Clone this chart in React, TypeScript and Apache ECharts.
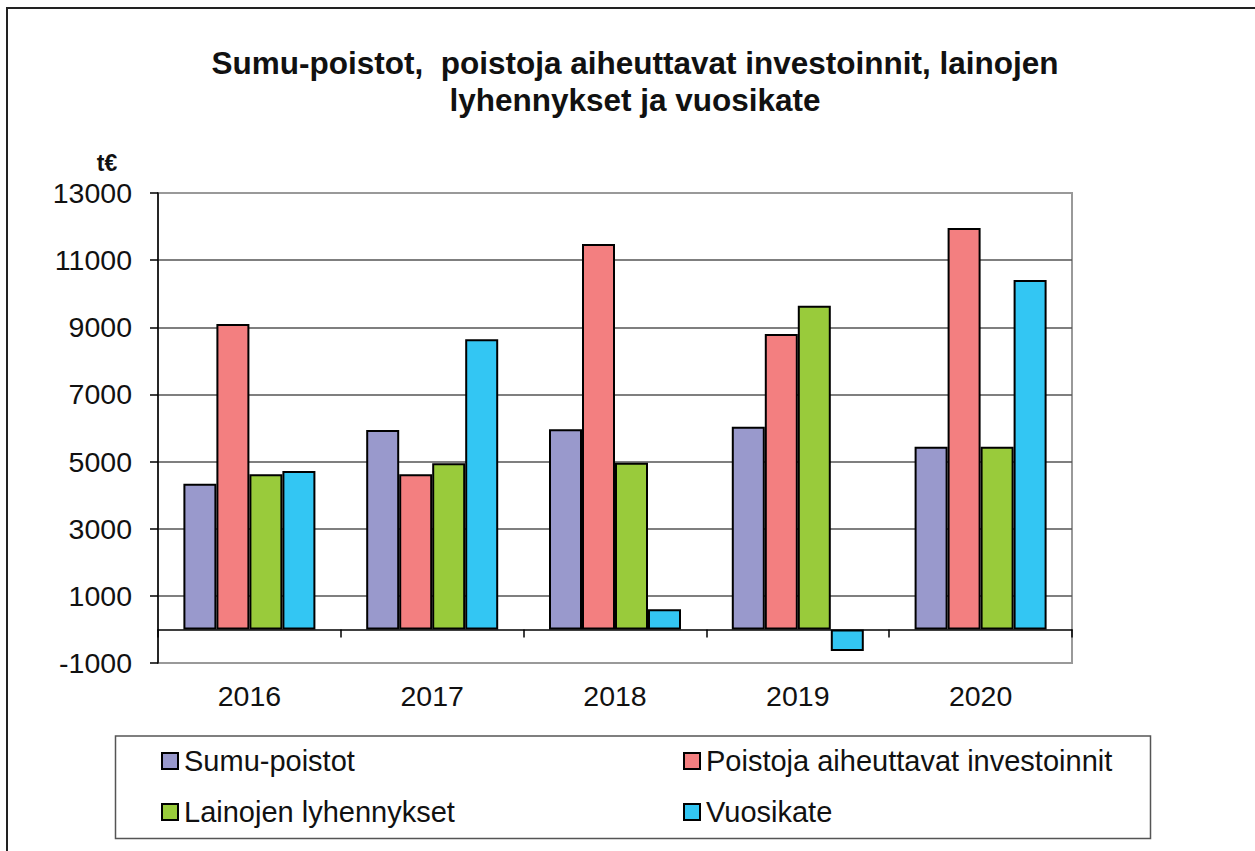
import React, { useEffect, useRef } from "react";
import * as echarts from "echarts";

const years = ["2016", "2017", "2018", "2019", "2020"];
const sumuPoistot = [4340, 5940, 5960, 6040, 5440];
const investoinnit = [9100, 4620, 11480, 8800, 11960];
const lyhennykset = [4620, 4950, 4965, 9640, 5440];
const vuosikate = [4720, 8640, 600, -640, 10410];

const seriesNames = [
  "Sumu-poistot",
  "Poistoja aiheuttavat investoinnit",
  "Lainojen lyhennykset",
  "Vuosikate",
];
const seriesColors = ["#9999cc", "#f37f80", "#99cb3b", "#33c6f3"];
const seriesData = [sumuPoistot, investoinnit, lyhennykset, vuosikate];

const FONT = "'Liberation Sans', Arial, sans-serif";

export default function App() {
  const ref = useRef<HTMLDivElement>(null);
  useEffect(() => {
    if (!ref.current) return;
    const chart = echarts.init(ref.current, null, { renderer: "svg" });
    const legendPos = [
      { left: 161, top: 746 },
      { left: 683, top: 746 },
      { left: 161, top: 797 },
      { left: 683, top: 797 },
    ];
    chart.setOption({
      animation: false,
      backgroundColor: "#ffffff",
      title: {
        text: "Sumu-poistot,  poistoja aiheuttavat investoinnit, lainojen\nlyhennykset ja vuosikate",
        left: 635,
        top: 44,
        textAlign: "center",
        padding: 0,
        textStyle: {
          fontFamily: FONT,
          fontSize: 31.5,
          fontWeight: "bold",
          color: "#111",
          lineHeight: 37,
        },
      },
      grid: {
        left: 158,
        right: 183,
        top: 193,
        bottom: 188,
        show: true,
        borderColor: "#999",
        borderWidth: 2,
        backgroundColor: "transparent",
      },
      legend: seriesNames.map((n, i) => ({
        data: [n],
        left: legendPos[i].left,
        top: legendPos[i].top,
        padding: 0,
        itemWidth: 16,
        itemHeight: 16,
        itemGap: 0,
        icon: "rect",
        selectedMode: false,
        textStyle: {
          fontFamily: FONT,
          fontSize: 29,
          color: "#111",
          lineHeight: 30,
          padding: [0, 0, 0, 1],
        },
      })),
      xAxis: {
        type: "category",
        data: years,
        axisLine: { onZero: true, lineStyle: { color: "#000", width: 1.5 } },
        axisTick: { show: true, length: 8, lineStyle: { color: "#000", width: 1.5 } },
        axisLabel: { margin: 18, fontFamily: FONT, fontSize: 28.5, color: "#111" },
        splitLine: { show: false },
      },
      yAxis: {
        type: "value",
        min: -1000,
        max: 13000,
        interval: 2000,
        axisLine: { show: true, lineStyle: { color: "#000", width: 1.5 } },
        axisTick: { show: true, length: 8, lineStyle: { color: "#000", width: 1.5 } },
        axisLabel: {
          margin: 26,
          fontFamily: FONT,
          fontSize: 28.5,
          color: "#111",
          formatter: (v: number) => String(v),
        },
        splitLine: {
          show: true,
          showMinLine: false,
          showMaxLine: false,
          lineStyle: { color: "#555", width: 1.5 },
        },
      },
      series: seriesNames.map((n, i) => ({
        name: n,
        type: "bar",
        data: seriesData[i],
        barWidth: 33,
        barGap: "0%",
        itemStyle: { color: seriesColors[i], borderColor: "#000", borderWidth: 2 },
      })),
      graphic: [
        {
          type: "rect",
          silent: true,
          shape: { x: 7, y: 8, width: 1400, height: 1000 },
          style: { fill: "none", stroke: "#222", lineWidth: 2 },
          z: -1,
        },
        {
          type: "rect",
          silent: true,
          shape: { x: 115.5, y: 736, width: 1035, height: 102.5 },
          style: { fill: "none", stroke: "#555", lineWidth: 1.5 },
        },
        {
          type: "text",
          x: 107,
          y: 163,
          style: {
            text: "t€",
            textAlign: "center",
            textVerticalAlign: "middle",
            fontFamily: FONT,
            fontSize: 23,
            fontWeight: "bold",
            fill: "#111",
          },
        },
      ],
    });
    return () => chart.dispose();
  }, []);
  return (
    <div
      ref={ref}
      style={{ position: "absolute", left: 0, top: 0, width: 1255, height: 851 }}
    />
  );
}
